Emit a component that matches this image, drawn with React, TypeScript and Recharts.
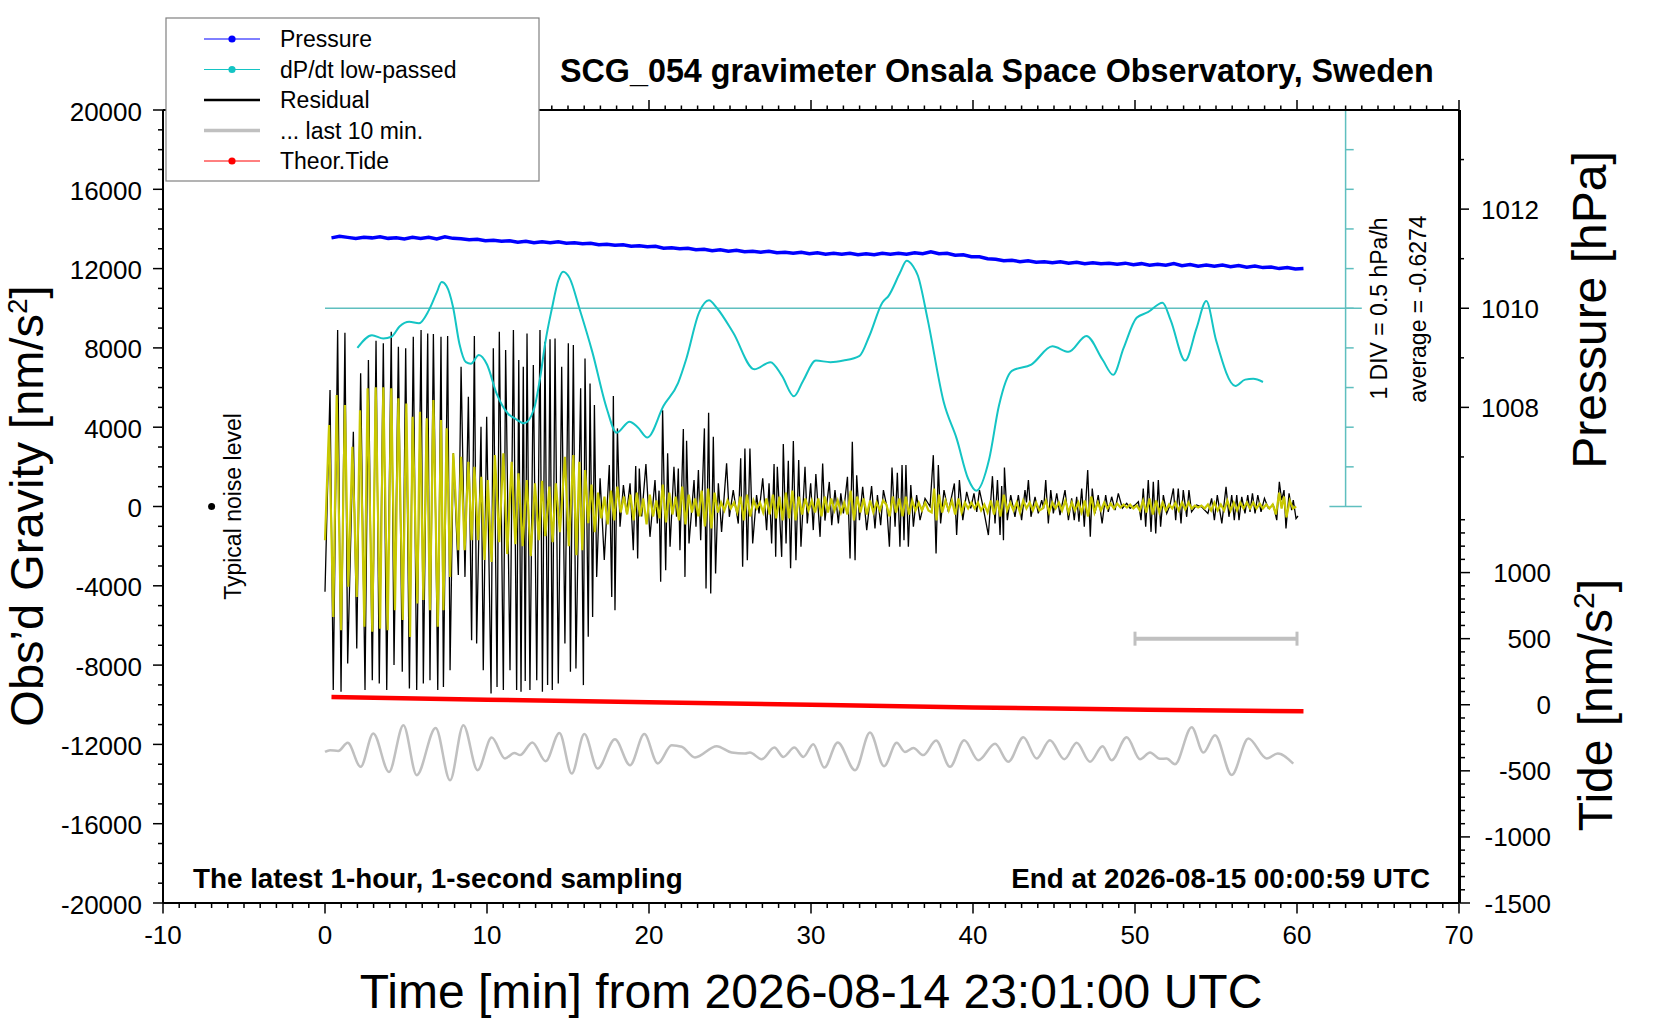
import { ComposedChart, Line, XAxis, YAxis, ReferenceLine, ReferenceDot } from "recharts";

// time axis [min] and tick labels
const xLabels = [-10, 0, 10, 20, 30, 40, 50, 60, 70];
const xTicks = Array.from({ length: 81 }, (_, i) => i - 10);
const topTicks = xTicks.filter((v) => v > -10);
const gravityLabels = [-20000, -16000, -12000, -8000, -4000, 0, 4000, 8000, 12000, 16000, 20000];
const gravityTicks = Array.from({ length: 41 }, (_, i) => -20000 + i * 1000);
const pressureLabels = [1008, 1010, 1012];
const pressureTicks = [1007, 1008, 1009, 1010, 1011, 1012, 1013];
const tideLabels = [-1500, -1000, -500, 0, 500, 1000];
const tideTicks = Array.from({ length: 30 }, (_, i) => -1500 + i * 100);

const legendNames = ["Pressure", "dP/dt low-passed", "Residual", "... last 10 min.", "Theor.Tide"];

// [min, hPa]
const pressure = [
  [0.4, 1011.42], [0.9, 1011.45], [1.4, 1011.43], [1.9, 1011.41], [2.4, 1011.43], [2.9, 1011.42],
  [3.4, 1011.44], [3.9, 1011.41], [4.4, 1011.42], [4.9, 1011.4], [5.4, 1011.43], [5.9, 1011.41],
  [6.4, 1011.43], [6.9, 1011.4], [7.4, 1011.44], [7.9, 1011.41], [8.4, 1011.4], [8.9, 1011.38],
  [9.4, 1011.39], [9.9, 1011.36], [10.4, 1011.37], [10.9, 1011.35], [11.4, 1011.36], [11.9, 1011.33],
  [12.4, 1011.35], [12.9, 1011.32], [13.4, 1011.34], [13.9, 1011.32], [14.4, 1011.34], [14.9, 1011.31],
  [15.4, 1011.32], [15.9, 1011.3], [16.4, 1011.31], [16.9, 1011.28], [17.4, 1011.29], [17.9, 1011.27],
  [18.4, 1011.28], [18.9, 1011.25], [19.4, 1011.26], [19.9, 1011.24], [20.4, 1011.25], [20.9, 1011.21],
  [21.4, 1011.22], [21.9, 1011.2], [22.4, 1011.21], [22.9, 1011.18], [23.4, 1011.19], [23.9, 1011.16],
  [24.4, 1011.18], [24.9, 1011.15], [25.4, 1011.17], [25.9, 1011.14], [26.4, 1011.15], [26.9, 1011.13],
  [27.4, 1011.15], [27.9, 1011.12], [28.4, 1011.13], [28.9, 1011.11], [29.4, 1011.13], [29.9, 1011.1],
  [30.4, 1011.12], [30.9, 1011.09], [31.4, 1011.11], [31.9, 1011.09], [32.4, 1011.11], [32.9, 1011.08],
  [33.4, 1011.1], [33.9, 1011.08], [34.4, 1011.11], [34.9, 1011.09], [35.4, 1011.11], [35.9, 1011.09],
  [36.4, 1011.12], [36.9, 1011.1], [37.4, 1011.14], [37.9, 1011.1], [38.4, 1011.11], [38.9, 1011.07],
  [39.4, 1011.08], [39.9, 1011.04], [40.4, 1011.04], [40.9, 1011.0], [41.4, 1010.99], [41.9, 1010.96],
  [42.4, 1010.97], [42.9, 1010.94], [43.4, 1010.96], [43.9, 1010.93], [44.4, 1010.94], [44.9, 1010.92],
  [45.4, 1010.94], [45.9, 1010.91], [46.4, 1010.93], [46.9, 1010.9], [47.4, 1010.92], [47.9, 1010.9],
  [48.4, 1010.91], [48.9, 1010.89], [49.4, 1010.91], [49.9, 1010.88], [50.4, 1010.9], [50.9, 1010.87],
  [51.4, 1010.89], [51.9, 1010.87], [52.4, 1010.9], [52.9, 1010.86], [53.4, 1010.88], [53.9, 1010.85],
  [54.4, 1010.87], [54.9, 1010.85], [55.4, 1010.87], [55.9, 1010.84], [56.4, 1010.86], [56.9, 1010.83],
  [57.4, 1010.85], [57.9, 1010.82], [58.4, 1010.83], [58.9, 1010.8], [59.4, 1010.82], [59.9, 1010.79],
  [60.4, 1010.8],
];

// [min, hPa/h]
const dpdt = [
  [2.0, -0.5], [2.9, -0.34], [3.6, -0.38], [4.1, -0.36], [4.6, -0.23], [5.2, -0.17], [5.8, -0.19],
  [6.4, -0.03], [6.9, 0.2], [7.2, 0.33], [7.5, 0.28], [7.9, 0.02], [8.3, -0.45], [8.7, -0.68],
  [9.0, -0.7], [9.5, -0.59], [10.0, -0.71], [10.6, -1.08], [11.3, -1.33], [11.8, -1.4], [12.3, -1.45],
  [12.9, -1.27], [13.3, -0.85], [13.6, -0.43], [14.0, -0.01], [14.4, 0.35], [14.7, 0.46], [15.1, 0.38],
  [15.7, 0.0], [16.5, -0.55], [17.4, -1.27], [18.0, -1.57], [18.8, -1.43], [19.3, -1.5], [19.9, -1.63],
  [20.9, -1.23], [21.8, -0.94], [22.3, -0.64], [23.1, -0.05], [23.7, 0.1], [24.2, 0.0], [25.2, -0.31],
  [26.5, -0.77], [27.5, -0.68], [28.2, -0.85], [28.95, -1.11], [29.5, -0.92], [30.3, -0.66], [31.2, -0.68],
  [32.0, -0.66], [33.0, -0.6], [33.6, -0.35], [34.4, 0.07], [34.8, 0.16], [35.5, 0.45], [35.9, 0.6],
  [36.3, 0.53], [36.6, 0.41], [37.2, -0.14], [38.2, -1.19], [39.0, -1.65], [39.7, -2.15], [40.2, -2.3],
  [41.0, -1.9], [41.6, -1.23], [42.4, -0.79], [43.6, -0.71], [44.9, -0.48], [45.9, -0.55], [47.0, -0.35],
  [48.0, -0.65], [48.65, -0.84], [49.3, -0.5], [50.1, -0.12], [50.8, -0.05], [51.7, 0.07], [52.2, -0.15],
  [53.1, -0.66], [53.8, -0.25], [54.4, 0.09], [55.0, -0.4], [56.2, -0.98], [56.8, -0.9], [57.3, -0.89],
  [57.9, -0.93],
];

// [min, nm/s^2]
const residual = [
  [0.0, -4300], [0.31, 5870], [0.51, -9260], [0.78, 8900], [0.99, -9350], [1.23, 8770], [1.4, -7920],
  [1.75, 3770], [1.96, -7160], [2.2, 6720], [2.47, -9260], [2.68, 7390], [2.92, -8760], [3.15, 8360],
  [3.35, -8930], [3.6, 8230], [3.81, -9260], [4.09, 8820], [4.26, -8000], [4.53, 8060], [4.77, -8340],
  [4.98, 7980], [5.21, -9180], [5.45, 8560], [5.66, -9260], [5.93, 8900], [6.07, -8930], [6.34, 8730],
  [6.48, -8760], [6.69, 8700], [6.96, -9260], [7.16, 8560], [7.31, -9100], [7.57, 8600], [7.72, -8260],
  [7.92, 2680], [8.23, -3460], [8.4, 7050], [8.64, -3550], [8.85, 5540], [9.05, -6740], [9.22, 8600],
  [9.36, -6910], [9.63, 4020], [9.77, -8260], [9.98, 4530], [10.25, -9430], [10.39, 7980], [10.62, -9100],
  [10.76, 8820], [11.01, -9260], [11.15, 7890], [11.42, -8260], [11.63, 8900], [11.83, -9260], [11.96, 7390],
  [12.1, -9350], [12.24, 7050], [12.36, -8800], [12.47, 8730], [12.65, -9260], [12.86, 7140], [13.07, -8760],
  [13.27, 8900], [13.42, -9350], [13.58, 8310], [13.74, -9000], [13.89, 8430], [14.03, -9260], [14.2, 8480],
  [14.4, -8930], [14.61, 7050], [14.81, -6910], [15.02, 8230], [15.15, -8340], [15.33, 8140], [15.49, -8170],
  [15.78, 5960], [15.95, -9010], [16.05, 7470], [16.25, -6570], [16.36, 6210], [16.52, -5570], [16.63, 5120],
  [16.77, -3550], [16.98, 1420], [17.24, -2700], [17.55, 2090], [17.7, -4560], [17.8, 5570], [17.9, -5230],
  [18.05, 3940], [18.21, -1020], [18.42, 1080], [18.62, -350], [18.83, 1170], [19.03, -2200], [19.18, 2040],
  [19.3, -2620], [19.4, 1920], [19.55, -500], [19.81, 2140], [20.06, -1530], [20.37, 1330], [20.51, -860],
  [20.62, 800], [20.72, -3800], [20.84, 4860], [21.03, -3210], [21.15, 2680], [21.3, -2030], [21.54, 2000],
  [21.7, -520], [21.81, 1920], [21.91, -2200], [22.12, 3910], [22.22, -3550], [22.32, 3320], [22.47, -1870],
  [22.78, 1330], [22.9, -1020], [23.05, 1840], [23.19, -1700], [23.42, 3940], [23.52, -4130], [23.68, 4730],
  [23.81, -4390], [23.97, 3520], [24.11, -3380], [24.28, 1170], [24.48, -1280], [24.79, 2180], [24.96, -520],
  [25.2, 830], [25.51, -860], [25.66, 2430], [25.78, -3040], [25.92, 2930], [26.07, -2710], [26.23, 2930],
  [26.4, -1870], [26.64, 580], [26.79, -350], [27.02, 1420], [27.26, -1190], [27.41, 1170], [27.57, -1870],
  [27.72, 2140], [27.82, -2540], [27.92, 2000], [28.19, -2540], [28.29, 3150], [28.46, -1870], [28.6, 2310],
  [28.74, -3120], [28.91, 3300], [29.07, -2710], [29.24, 2340], [29.38, -2030], [29.63, 2000], [29.77, -860],
  [29.98, 1170], [30.14, -1190], [30.3, 1640], [30.56, -1530], [30.72, 2170], [30.86, -710], [31.13, 1240],
  [31.28, -940], [31.48, 830], [31.69, -850], [31.84, 660], [32.0, -350], [32.25, 1500], [32.41, -2620],
  [32.55, 3260], [32.72, -2710], [32.82, 1580], [32.99, -690], [33.19, 990], [33.44, -1190], [33.74, 1030],
  [33.95, -1110], [34.1, 580], [34.3, -940], [34.47, 830], [34.67, 50], [34.84, -2030], [35.0, 1970],
  [35.19, -1020], [35.33, 1700], [35.49, -2030], [35.62, 2090], [35.74, -1700], [35.86, 2090], [36.01, -2030],
  [36.16, 1080], [36.32, -1020], [36.52, 580], [36.73, -690], [37.04, 410], [37.35, 0], [37.55, 2590],
  [37.72, -2370], [37.86, 2090], [38.0, -850], [38.21, 830], [38.48, -270], [38.85, 1160], [38.99, -1440],
  [39.16, 1330], [39.37, -690], [39.61, 740], [39.86, -90], [40.06, 660], [40.23, -270], [40.4, 830],
  [40.6, 70], [40.95, -1440], [41.2, 1530], [41.36, -850], [41.51, 1330], [41.67, -1440], [41.77, 1030],
  [41.88, -1700], [41.94, 1970], [42.12, -690], [42.33, 580], [42.59, -520], [42.8, 580], [43.0, -690],
  [43.21, 830], [43.3, 200], [43.42, 1330], [43.58, -520], [43.83, 490], [44.03, -350], [44.24, 320],
  [44.36, -100], [44.49, 1330], [44.65, -850], [44.8, 830], [44.96, -350], [45.17, 660], [45.37, -440],
  [45.68, 830], [45.89, -690], [46.09, 410], [46.25, -690], [46.4, 490], [46.54, -770], [46.71, 910],
  [46.87, -1020], [47.08, 1840], [47.24, -1530], [47.36, 910], [47.53, -350], [47.73, 580], [47.97, -850],
  [48.19, 580], [48.35, -270], [48.56, 490], [48.77, -180], [48.97, 660], [49.22, -90], [49.49, 160],
  [49.7, -90], [50.0, 70], [50.21, 240], [50.37, -690], [50.51, 910], [50.66, -1020], [50.82, 1330],
  [50.99, -1280], [51.13, 1250], [51.28, -1360], [51.44, 1330], [51.58, -1020], [51.75, 580], [51.96, -350],
  [52.16, 70], [52.37, 910], [52.51, -690], [52.67, 910], [52.84, -850], [52.98, 830], [53.19, -520],
  [53.33, 830], [53.49, -270], [53.8, 70], [54.11, -20], [54.5, -350], [54.73, 410], [54.9, -690],
  [55.08, 580], [55.36, -850], [55.62, 990], [55.8, -520], [55.97, 580], [56.13, -690], [56.28, 580],
  [56.42, -690], [56.59, 490], [56.79, -350], [56.96, 580], [57.1, -270], [57.25, 660], [57.41, -350],
  [57.58, 580], [57.78, -270], [57.99, 410], [58.23, -90], [58.54, 70], [58.75, -690], [58.91, 1250],
  [59.05, 320], [59.2, 830], [59.32, -1110], [59.51, 660], [59.67, -180], [59.77, 320], [59.94, -610],
  [60.06, -480],
];

// [min, nm/s^2] filtered residual (yellow)
const filtered = [
  [0.0, -1700], [0.25, 4110], [0.51, -5570], [0.72, 5620], [0.99, -6240], [1.23, 5120], [1.44, -4050],
  [1.69, 3010], [1.96, -4560], [2.16, 4860], [2.43, -6070], [2.63, 5960], [2.92, -6320], [3.13, 6010],
  [3.4, -6160], [3.6, 6010], [3.87, -6240], [4.09, 5960], [4.32, -5230], [4.53, 5460], [4.8, -5730],
  [5.02, 5200], [5.25, -6580], [5.41, 4530], [5.7, -4890], [5.86, 4780], [6.07, -4720], [6.28, 4450],
  [6.48, -5230], [6.69, 5370], [6.96, -6070], [7.16, 4360], [7.31, -5230], [7.51, 3940], [7.72, -3550],
  [7.92, 2680], [8.23, -2200], [8.4, 2510], [8.62, -2200], [8.85, 2260], [9.05, -1700], [9.22, 2000],
  [9.45, -1700], [9.65, 1500], [9.85, -2700], [10.05, 1330], [10.28, -2800], [10.49, 2590], [10.75, -1800],
  [11.01, 2680], [11.25, -2400], [11.52, 2260], [11.75, -1900], [11.94, 1670], [12.2, -2000], [12.45, 1330],
  [12.7, -2500], [12.96, 1170], [13.2, -1700], [13.4, 1300], [13.6, -1500], [13.85, 1000], [14.05, -1800],
  [14.25, 1170], [14.5, -1300], [14.81, 2510], [15.05, -2000], [15.33, 2590], [15.52, -2460], [15.7, 2260],
  [15.88, -2200], [16.06, 1840], [16.25, -840], [16.45, 1100], [16.65, -1300], [16.85, 700], [17.05, -600],
  [17.25, 500], [17.45, -900], [17.65, 800], [17.85, -700], [18.05, 1000], [18.25, -300], [18.45, 500],
  [18.65, -400], [18.85, 600], [19.05, -700], [19.25, 700], [19.45, -500], [19.65, 400], [19.85, -900],
  [20.05, 600], [20.25, -500], [20.45, 300], [20.65, -600], [20.85, 1100], [21.05, -800], [21.25, 700],
  [21.45, -400], [21.65, 500], [21.85, -700], [22.05, 1000], [22.25, -900], [22.45, 600], [22.65, -300],
  [22.85, 400], [23.05, -500], [23.25, 800], [23.45, -1000], [23.65, 900], [23.85, -1100], [24.05, 700],
  [24.25, -300], [24.45, 200], [24.65, -200], [24.85, 300], [25.05, -100], [25.25, 200], [25.45, -300],
  [25.65, 500], [25.85, -700], [26.05, 600], [26.25, -500], [26.45, 300], [26.65, -100], [26.85, 200],
  [27.05, -300], [27.25, 400], [27.45, -400], [27.65, 600], [27.85, -600], [28.05, 500], [28.25, -700],
  [28.45, 700], [28.65, -600], [28.85, 800], [29.05, -700], [29.25, 500], [29.45, -400], [29.65, 400],
  [29.85, -200], [30.05, 300], [30.25, -300], [30.45, 400], [30.65, -500], [30.85, 500], [31.05, -300],
  [31.25, 400], [31.45, -200], [31.65, 300], [31.85, -300], [32.05, 200], [32.25, -400], [32.45, 800],
  [32.65, -700], [32.85, 500], [33.05, -300], [33.25, 400], [33.45, -400], [33.65, 300], [33.85, -300],
  [34.05, 200], [34.25, -200], [34.45, 300], [34.65, 100], [34.85, -500], [35.05, 500], [35.25, -300],
  [35.45, 400], [35.65, -500], [35.85, 500], [36.05, -400], [36.25, 300], [36.45, -200], [36.65, 200],
  [36.85, -200], [37.05, 200], [37.25, -200], [37.45, -300], [37.6, 900], [37.75, -700], [37.9, 600],
  [38.1, -300], [38.3, 300], [38.5, -200], [38.7, 300], [38.9, -400], [39.1, 400], [39.3, -300], [39.5, 200],
  [39.7, -100], [39.9, 200], [40.1, -100], [40.3, 200], [40.5, -200], [40.7, 100], [40.9, -300], [41.1, 300],
  [41.3, -400], [41.5, 300], [41.7, -500], [41.9, 600], [42.1, -200], [42.3, 200], [42.5, -200], [42.7, 200],
  [42.9, -300], [43.1, 300], [43.3, -100], [43.5, 200], [43.7, -200], [43.9, 200], [44.1, -200], [44.3, -100],
  [44.5, 300], [44.7, -300], [44.9, 200], [45.1, -100], [45.3, 200], [45.5, -200], [45.7, 300], [45.9, -300],
  [46.1, 200], [46.3, -200], [46.5, 200], [46.7, -300], [46.9, 300], [47.1, -500], [47.3, 500], [47.5, -300],
  [47.7, 200], [47.9, -200], [48.1, 200], [48.3, -100], [48.5, 150], [48.7, -100], [48.9, 150], [49.1, -50],
  [49.3, 100], [49.5, -50], [49.7, 100], [49.9, -100], [50.1, 50], [50.3, -200], [50.5, 300], [50.7, -300],
  [50.9, 400], [51.1, -400], [51.3, 300], [51.5, -300], [51.7, 200], [51.9, -200], [52.1, 100], [52.3, -100],
  [52.5, 200], [52.7, -200], [52.9, 200], [53.1, -150], [53.3, 200], [53.5, -100], [53.7, 50], [53.9, -50],
  [54.1, 50], [54.3, -100], [54.5, 100], [54.7, -200], [54.9, 200], [55.1, -200], [55.3, 100], [55.5, -200],
  [55.7, 300], [55.9, -200], [56.1, 200], [56.3, -200], [56.5, 200], [56.7, -100], [56.9, 200], [57.1, -100],
  [57.3, 200], [57.5, -100], [57.7, 150], [57.9, -100], [58.1, 100], [58.3, -100], [58.5, 100], [58.7, -400],
  [58.9, 700], [59.05, -100], [59.2, 500], [59.35, -550], [59.55, 300], [59.75, -100], [59.95, 0],
];

// last 10 minutes of residual stretched over the hour, offset on gravity axis
const last10 = [
  [0.0, -12380], [0.31, -12290], [0.82, -12330], [1.4, -11920], [2.2, -13130], [2.98, -11450],
  [3.95, -13390], [4.84, -11030], [5.66, -13550], [6.83, -11170], [7.72, -13810], [8.54, -11030],
  [9.42, -13300], [10.29, -11650], [11.11, -12710], [11.69, -12430], [12.04, -12540], [12.8, -11900],
  [13.62, -12850], [14.47, -11420], [15.23, -13470], [16.01, -11480], [16.83, -13220], [17.9, -11740],
  [18.83, -13050], [19.71, -11480], [20.54, -12960], [21.4, -12040], [22.02, -12120], [22.84, -12660],
  [24.18, -12090], [25.1, -12410], [25.93, -12460], [26.23, -12410], [26.95, -12750], [27.74, -12160],
  [28.29, -12630], [28.97, -12160], [29.53, -12630], [30.14, -11990], [30.82, -13170], [31.65, -11900],
  [32.72, -13300], [33.64, -11400], [34.51, -13100], [35.29, -11920], [35.8, -12380], [36.32, -12180],
  [36.93, -12540], [37.72, -11800], [38.58, -13130], [39.46, -11790], [40.33, -12800], [41.36, -11970],
  [42.18, -12880], [43.11, -11640], [43.93, -12710], [44.75, -11790], [45.64, -12750], [46.4, -11920],
  [47.22, -12880], [48.0, -12090], [48.56, -12800], [49.49, -11640], [50.31, -12750], [50.93, -12410],
  [51.54, -12730], [51.95, -12710], [52.47, -13000], [53.5, -11130], [54.22, -12410], [54.94, -11540],
  [55.97, -13540], [57.0, -11700], [58.13, -12710], [58.81, -12460], [59.77, -12970],
];

// [min, nm/s^2] theoretical tide
const tide = [[0.4, 58], [10, 38], [20, 18], [31, -2], [40, -20], [50.8, -38], [60.4, -50]];

const rows = (pairs: number[][]) => pairs.map(([t, v]) => ({ t, v }));

const FONT = "'Liberation Sans', Arial, Helvetica, sans-serif";
const SCALE = "#5fbfbf";

const BottomTick = (p: any) => {
  const major = xLabels.includes(p.payload.value);
  return (
    <g>
      <line x1={p.x} x2={p.x} y1={p.y} y2={p.y + (major ? 10.5 : 5)} stroke="#000" strokeWidth={1.5} />
      {major && (
        <text x={p.x} y={p.y + 41} textAnchor="middle" fontSize={26} fontFamily={FONT} fill="#000">
          {p.payload.value}
        </text>
      )}
    </g>
  );
};

const TopTick = (p: any) => {
  const major = xLabels.includes(p.payload.value);
  return <line x1={p.x} x2={p.x} y1={p.y} y2={p.y - (major ? 10 : 4.5)} stroke="#000" strokeWidth={1.5} />;
};

const LeftTick = (p: any) => {
  const major = gravityLabels.includes(p.payload.value);
  return (
    <g>
      <line x1={p.x - (major ? 10 : 5)} x2={p.x} y1={p.y} y2={p.y} stroke="#000" strokeWidth={1.5} />
      {major && (
        <text x={p.x - 21} y={p.y + 10.5} textAnchor="end" fontSize={26} fontFamily={FONT} fill="#000">
          {p.payload.value}
        </text>
      )}
    </g>
  );
};

const PressureTick = (p: any) => {
  const major = pressureLabels.includes(p.payload.value);
  return (
    <g>
      <line x1={p.x} x2={p.x + (major ? 10 : 5)} y1={p.y} y2={p.y} stroke="#000" strokeWidth={1.5} />
      {major && (
        <text x={p.x + 22} y={p.y + 9.5} textAnchor="start" fontSize={26} fontFamily={FONT} fill="#000">
          {p.payload.value}
        </text>
      )}
    </g>
  );
};

const TideTick = (p: any) => {
  const major = tideLabels.includes(p.payload.value);
  return (
    <g>
      <line x1={p.x} x2={p.x + (major ? 10 : 5)} y1={p.y} y2={p.y} stroke="#000" strokeWidth={1.5} />
      {major && (
        <text x={p.x + 91} y={p.y + 9.5} textAnchor="end" fontSize={26} fontFamily={FONT} fill="#000">
          {p.payload.value}
        </text>
      )}
    </g>
  );
};

const legendRows = [
  { color: "#0000ff", width: 1, dot: true },
  { color: "#14c4c4", width: 1, dot: true },
  { color: "#000000", width: 2.5, dot: false },
  { color: "#c0c0c0", width: 3.5, dot: false },
  { color: "#ff0000", width: 1, dot: true },
];

const divTicks = [-2.5, -2, -1.5, -1, -0.5, 0, 0.5, 1, 1.5, 2, 2.5];

const Overlay = () => (
  <svg width={1660} height={1020} style={{ position: "absolute", left: 0, top: 0, pointerEvents: "none" }} fontFamily={FONT}>
    <rect x={166} y={18} width={373} height={163} fill="#fff" stroke="#808080" strokeWidth={1.2} />
    {legendNames.map((name, i) => {
      const y = 39 + i * 30.5;
      const r = legendRows[i];
      return (
        <g key={name}>
          <line x1={204} x2={260} y1={y} y2={y} stroke={r.color} strokeWidth={r.width} />
          {r.dot && <circle cx={232} cy={y} r={3.6} fill={r.color} />}
          <text x={280} y={y + 8} fontSize={23} fill="#000">{name}</text>
        </g>
      );
    })}
    <text x={560} y={82} fontSize={32.3} fontWeight="bold" fill="#000">
      SCG_054 gravimeter Onsala Space Observatory, Sweden
    </text>
    <text x={193} y={888} fontSize={27.8} fontWeight="bold" fill="#000">The latest 1-hour, 1-second sampling</text>
    <text x={1430} y={888} fontSize={27.8} fontWeight="bold" textAnchor="end" fill="#000">
      End at 2026-08-15 00:00:59 UTC
    </text>
    <text x={241} y={506.5} fontSize={23} textAnchor="middle" transform="rotate(-90 241 506.5)" fill="#000">
      Typical noise level
    </text>
    <text x={1387} y={308.5} fontSize={23} textAnchor="middle" transform="rotate(-90 1387 308.5)" fill="#000">
      1 DIV = 0.5 hPa/h
    </text>
    <text x={1426} y={309} fontSize={23} textAnchor="middle" transform="rotate(-90 1426 309)" fill="#000">
      average = -0.6274
    </text>
    <text x={43} y={506} fontSize={47} textAnchor="middle" transform="rotate(-90 43 506)" fill="#000">
      Obs’d Gravity [nm/s<tspan fontSize={28} dy={-16}>2</tspan><tspan dy={16}>]</tspan>
    </text>
    <text x={1606} y={310} fontSize={48} textAnchor="middle" transform="rotate(-90 1606 310)" fill="#000">
      Pressure [hPa]
    </text>
    <text x={1612} y={705} fontSize={48} textAnchor="middle" transform="rotate(-90 1612 705)" fill="#000">
      Tide [nm/s<tspan fontSize={30} dy={-18}>2</tspan><tspan dy={18}>]</tspan>
    </text>
    <text x={811} y={1008} fontSize={48} textAnchor="middle" fill="#000">
      Time [min] from 2026-08-14 23:01:00 UTC
    </text>
  </svg>
);

export default function App() {
  return (
    <div style={{ position: "absolute", left: 0, top: 0, width: 1660, height: 1020, background: "#fff" }}>
      <ComposedChart width={1660} height={1020} margin={{ top: 109, right: 199, bottom: 116, left: 162 }}>
        <XAxis xAxisId="b" dataKey="t" type="number" domain={[-10, 70]} allowDataOverflow ticks={xTicks} interval={0}
          height={1} tickSize={0} tickMargin={0} tickLine={false} tick={BottomTick}
          axisLine={{ stroke: "#000", strokeWidth: 2 }} />
        <XAxis xAxisId="top" orientation="top" dataKey="t" type="number" domain={[-10, 70]} allowDataOverflow ticks={topTicks}
          interval={0} height={1} tickSize={0} tickMargin={0} tickLine={false} tick={TopTick}
          axisLine={{ stroke: "#000", strokeWidth: 2 }} />
        <YAxis yAxisId="g" type="number" domain={[-20000, 20000]} allowDataOverflow ticks={gravityTicks} interval={0}
          width={1} tickSize={0} tickMargin={0} tickLine={false} tick={LeftTick}
          axisLine={{ stroke: "#000", strokeWidth: 2 }} />
        <YAxis yAxisId="p" orientation="right" type="number" domain={[998, 1014]} allowDataOverflow ticks={pressureTicks}
          interval={0} width={1} tickSize={0} tickMargin={0} tickLine={false} tick={PressureTick}
          axisLine={{ stroke: "#000", strokeWidth: 2 }} />
        <YAxis yAxisId="tide" orientation="right" type="number" domain={[-1500, 4500]} allowDataOverflow ticks={tideTicks}
          interval={0} width={1} tickSize={0} tickMargin={0} tickLine={false} tick={TideTick}
          axisLine={{ stroke: "#000", strokeWidth: 2 }} />
        <YAxis yAxisId="dp" type="number" domain={[-7.5, 2.5]} allowDataOverflow hide width={0} />

        <ReferenceLine xAxisId="b" yAxisId="dp" segment={[{ x: 0, y: 0 }, { x: 64, y: 0 }]} stroke={SCALE} strokeWidth={1.5} />
        <ReferenceLine xAxisId="b" yAxisId="dp" segment={[{ x: 63, y: -2.5 }, { x: 63, y: 2.5 }]} stroke={SCALE} strokeWidth={1.5} />
        {divTicks.map((v) => (
          <ReferenceLine key={v} xAxisId="b" yAxisId="dp"
            segment={[{ x: Math.abs(v) === 2.5 ? 62 : 63, y: v }, { x: Math.abs(v) === 2.5 ? 64 : 63.5, y: v }]}
            stroke={SCALE} strokeWidth={1.5} />
        ))}

        <ReferenceLine xAxisId="b" yAxisId="tide" segment={[{ x: 50, y: 500 }, { x: 60, y: 500 }]} stroke="#c0c0c0" strokeWidth={4} />
        <ReferenceLine xAxisId="b" yAxisId="tide" segment={[{ x: 50, y: 447 }, { x: 50, y: 553 }]} stroke="#c0c0c0" strokeWidth={3} />
        <ReferenceLine xAxisId="b" yAxisId="tide" segment={[{ x: 60, y: 447 }, { x: 60, y: 553 }]} stroke="#c0c0c0" strokeWidth={3} />
        <ReferenceDot xAxisId="b" yAxisId="g" x={-7} y={0} r={3.5} fill="#000" stroke="none" />

        <Line xAxisId="b" yAxisId="g" data={rows(last10)} dataKey="v" type="monotone" stroke="#c0c0c0" strokeWidth={2.5}
          dot={false} activeDot={false} isAnimationActive={false} />
        <Line xAxisId="b" yAxisId="g" data={rows(residual)} dataKey="v" type="linear" stroke="#000" strokeWidth={1.3}
          dot={false} activeDot={false} isAnimationActive={false} />
        <Line xAxisId="b" yAxisId="g" data={rows(filtered)} dataKey="v" type="linear" stroke="#c8c800" strokeWidth={2.2}
          dot={false} activeDot={false} isAnimationActive={false} />
        <Line xAxisId="b" yAxisId="dp" data={rows(dpdt)} dataKey="v" type="monotone" stroke="#14c4c4" strokeWidth={2}
          dot={false} activeDot={false} isAnimationActive={false} />
        <Line xAxisId="b" yAxisId="p" data={rows(pressure)} dataKey="v" type="linear" stroke="#0000ff" strokeWidth={3.5}
          dot={false} activeDot={false} isAnimationActive={false} />
        <Line xAxisId="b" yAxisId="tide" data={rows(tide)} dataKey="v" type="linear" stroke="#ff0000" strokeWidth={4.5}
          dot={false} activeDot={false} isAnimationActive={false} />
      </ComposedChart>
      <Overlay />
    </div>
  );
}
